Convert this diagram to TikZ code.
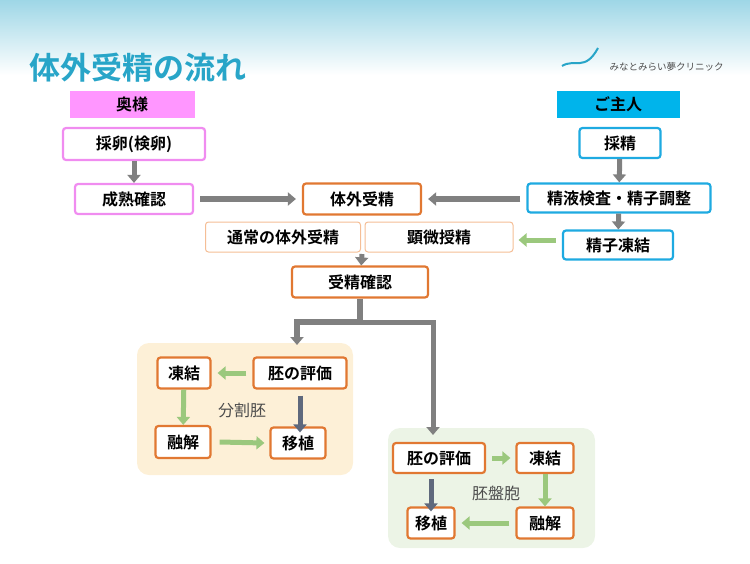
\documentclass[tikz,border=0pt]{standalone}
\usepackage{fontspec}
\setmainfont{Noto Sans CJK JP}[BoldFont=Noto Sans CJK JP Bold]
\usetikzlibrary{arrows.meta,positioning}
\definecolor{ttl}{RGB}{40,165,200}
\definecolor{pinkb}{RGB}{240,140,240}
\definecolor{pinkf}{RGB}{255,150,255}
\definecolor{blueb}{RGB}{30,170,225}
\definecolor{bluef}{RGB}{0,180,235}
\definecolor{orab}{RGB}{225,120,50}
\definecolor{oral}{RGB}{245,190,150}
\definecolor{grayA}{RGB}{128,128,128}
\definecolor{grayB}{RGB}{95,105,125}
\definecolor{greenA}{RGB}{155,200,125}
\definecolor{peach}{RGB}{253,240,215}
\definecolor{mint}{RGB}{236,244,230}
\tikzset{
    box/.style n args={3}{draw=#1, line width=2.2pt, rounded corners=3pt, fill=white,
        minimum width=#2, minimum height=#3, inner sep=0pt, font=\bfseries\fontsize{16}{16}\selectfont},
    wife/.style args={#1 #2}{box={pinkb}{#1}{#2}},
    husb/.style args={#1 #2}{box={blueb}{#1}{#2}},
    lab/.style args={#1 #2}{box={orab}{#1}{#2}},
    thin/.style args={#1 #2}{box={oral}{#1}{#2}, line width=1pt},
    fat/.style={line width=#1, -{Triangle[length=8pt,width=13pt]}},
    fat/.default={5pt},
    panel/.style={rounded corners=12pt, draw=none}
}
\begin{document}
\begin{tikzpicture}[x=1pt,y=-1pt]
    \useasboundingbox (0,0) rectangle (750,563);
    \shade[top color=ttl!45, bottom color=white] (0,0) rectangle (750,75);
    % title and logo
    \node[anchor=west, text=ttl, font=\bfseries\fontsize{31}{31}\selectfont] (title) at (26,68) {体外受精の流れ};
    \draw[ttl, line width=2pt] (562,66) .. controls (575,58) and (585,72) .. (598,48);
    \node[anchor=west, font=\fontsize{9.5}{9.5}\selectfont, text=black!70] (clinic) at (606,67) {みなとみらい夢クリニック};
    % headers
    \node[fill=pinkf, minimum width=125pt, minimum height=27pt, font=\bfseries\fontsize{16}{16}\selectfont] (wife) at (132,104) {奥様};
    \node[fill=bluef, minimum width=123pt, minimum height=27pt, font=\bfseries\fontsize{16}{16}\selectfont] (husband) at (618,104) {ご主人};
    % wife side
    \node[wife={142pt 32pt}] (saiiran) at (134,144) {採卵(検卵)};
    \node[wife={118pt 30pt}] (seijuku) at (134,199) {成熟確認};
    % husband side
    \node[husb={81pt 30pt}] (saisei) at (620,143) {採精};
    \node[husb={183pt 29pt}] (seieki) at (619,198) {精液検査・精子調整};
    \node[husb={110pt 29pt}] (touketsuS) at (618,245) {精子凍結};
    % center
    \node[lab={118pt 31pt}] (ivf) at (362,199) {体外受精};
    \node[thin={155pt 30pt}] (normal) at (283,237) {通常の体外受精};
    \node[thin={148pt 30pt}] (icsi) at (439,237) {顕微授精};
    \node[lab={136pt 31pt}] (confirm) at (360,282) {受精確認};
    % panels
    \fill[panel, fill=peach] (137,343) rectangle (353,475);
    \fill[panel, fill=mint] (388,428) rectangle (595,548);
    \node[font=\fontsize{16}{16}\selectfont, text=black!70] (bunkatsu) at (242,410) {分割胚};
    \node[font=\fontsize{16}{16}\selectfont, text=black!70] (haiban) at (496,493) {胚盤胞};
    % cleavage embryo
    \node[lab={53pt 31pt}] (frzA) at (184,373) {凍結};
    \node[lab={93pt 31pt}] (evalA) at (300,373) {胚の評価};
    \node[lab={55pt 32pt}] (thawA) at (183,442) {融解};
    \node[lab={55pt 31pt}] (transA) at (298,443) {移植};
    % blastocyst
    \node[lab={92pt 30pt}] (evalB) at (439,458) {胚の評価};
    \node[lab={57pt 30pt}] (frzB) at (545,458) {凍結};
    \node[lab={47pt 31pt}] (transB) at (431,523) {移植};
    \node[lab={57pt 31pt}] (thawB) at (545,523) {融解};
    % arrows
    \draw[fat, grayA] (saiiran) -- (seijuku);
    \draw[fat, grayA] (saisei) -- (seieki);
    \draw[fat, grayA] (seieki) -- (touketsuS);
    \draw[fat=6pt, grayA] ([xshift=6pt]seijuku.east) -- ([xshift=-6pt]ivf.west);
    \draw[fat=6pt, grayA] ([xshift=-6pt]seieki.west |- ivf) -- ([xshift=6pt]ivf.east);
    \draw[fat, greenA] ([xshift=-6pt]touketsuS.west |- 0,240) -- ([xshift=5pt]icsi.east |- 0,240);
    \draw[fat, grayA] (362,254) -- (confirm);
    \draw[line width=6pt, grayA] (confirm.south) -- (360,322) coordinate (split);
    \draw[fat=6pt, grayA] (split) -| (297,345);
    \draw[fat=5pt, grayA] ([xshift=-3pt]split) -| (433,435);
    \draw[fat, greenA] ([xshift=-6pt]evalA.west) -- ([xshift=6pt]frzA.east);
    \draw[fat, greenA] (frzA) -- (thawA);
    \draw[fat, grayB] (evalA.south) ++(0,6) -- ([yshift=-6pt]transA.north -| evalA.south);
    \draw[fat, greenA] ([xshift=8pt]thawA.east) -- ([xshift=-5pt]transA.west);
    \draw[fat, greenA] ([xshift=6pt]evalB.east) -- ([xshift=-5pt]frzB.west);
    \draw[fat, grayB] (evalB.south -| transB) ++(0,5) -- ([yshift=-5pt]transB.north);
    \draw[fat, greenA] (frzB) -- (thawB);
    \draw[fat, greenA] ([xshift=-6pt]thawB.west) -- ([xshift=6pt]transB.east);
\end{tikzpicture}
\end{document}
